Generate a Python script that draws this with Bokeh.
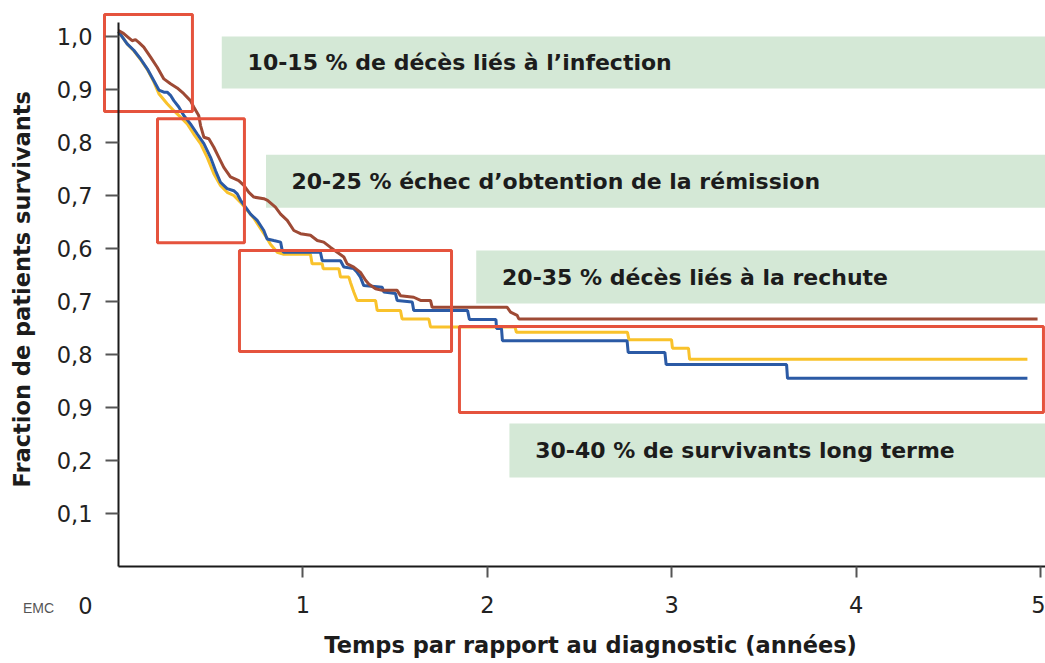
import math
from bokeh.plotting import figure
from bokeh.models import LinearAxis, FixedTicker, Label, Range1d
from bokeh.core.properties import value
from bokeh.embed import file_html
from bokeh.resources import INLINE

# ---------------- data ----------------
# survival curves (time in years, fraction surviving)
brown_t = [0, 0.027, 0.054, 0.074, 0.092, 0.110, 0.137, 0.174, 0.210, 0.246,
           0.282, 0.318, 0.354, 0.390, 0.408, 0.435, 0.445, 0.463, 0.490, 0.517,
           0.544, 0.571, 0.607, 0.652, 0.680, 0.707, 0.734, 0.788, 0.808, 0.851,
           0.879, 0.915, 0.951, 0.987, 1.041, 1.078, 1.113, 1.150, 1.186, 1.222,
           1.240, 1.276, 1.312, 1.340, 1.357, 1.394, 1.430, 1.511, 1.529, 1.601,
           1.638, 1.692, 1.701, 2.108, 2.126, 2.162, 2.171, 4.984]
brown_s = [1.011, 1.006, 0.998, 0.992, 0.994, 0.989, 0.980, 0.961, 0.942, 0.920,
           0.911, 0.903, 0.892, 0.879, 0.867, 0.851, 0.832, 0.810, 0.807, 0.791,
           0.772, 0.753, 0.735, 0.728, 0.719, 0.706, 0.697, 0.694, 0.691, 0.678,
           0.665, 0.653, 0.634, 0.628, 0.625, 0.615, 0.612, 0.602, 0.593, 0.584,
           0.571, 0.565, 0.555, 0.540, 0.533, 0.524, 0.521, 0.521, 0.511, 0.508,
           0.502, 0.502, 0.489, 0.489, 0.480, 0.474, 0.467, 0.467]

blue_t = [0, 0.047, 0.083, 0.119, 0.156, 0.191, 0.219, 0.246, 0.264, 0.282,
          0.300, 0.327, 0.354, 0.390, 0.427, 0.463, 0.499, 0.526, 0.553, 0.589,
          0.625, 0.644, 0.662, 0.689, 0.716, 0.752, 0.788, 0.806, 0.842, 0.879,
          0.888, 0.896, 1.095, 1.105, 1.204, 1.222, 1.276, 1.294, 1.312, 1.330,
          1.430, 1.439, 1.502, 1.511, 1.593, 1.601, 1.893, 1.903, 2.047, 2.050,
          2.077, 2.082, 2.758, 2.764, 2.963, 2.970, 3.623, 3.628, 4.929]
blue_s = [1.009, 0.986, 0.974, 0.958, 0.939, 0.917, 0.899, 0.895, 0.895, 0.889,
          0.879, 0.867, 0.851, 0.835, 0.816, 0.798, 0.772, 0.747, 0.725, 0.713,
          0.709, 0.703, 0.691, 0.678, 0.665, 0.653, 0.634, 0.618, 0.615, 0.612,
          0.596, 0.593, 0.593, 0.577, 0.577, 0.565, 0.562, 0.555, 0.546, 0.530,
          0.527, 0.518, 0.515, 0.502, 0.499, 0.483, 0.483, 0.466, 0.466, 0.449,
          0.449, 0.426, 0.426, 0.404, 0.404, 0.381, 0.381, 0.355, 0.355]

yellow_t = [0, 0.047, 0.083, 0.119, 0.156, 0.191, 0.219, 0.264, 0.300, 0.345,
            0.373, 0.408, 0.445, 0.481, 0.517, 0.553, 0.589, 0.625, 0.662, 0.698,
            0.734, 0.770, 0.806, 0.824, 0.861, 0.896, 1.041, 1.050, 1.105, 1.110,
            1.195, 1.204, 1.249, 1.258, 1.276, 1.294, 1.394, 1.403, 1.529, 1.538,
            1.683, 1.692, 2.150, 2.158, 2.760, 2.768, 2.999, 3.004, 3.091, 3.097,
            4.929]
yellow_s = [1.009, 0.986, 0.973, 0.957, 0.938, 0.915, 0.892, 0.873, 0.860, 0.845,
            0.835, 0.816, 0.798, 0.772, 0.741, 0.719, 0.706, 0.700, 0.687, 0.672,
            0.657, 0.638, 0.619, 0.608, 0.593, 0.589, 0.589, 0.571, 0.571, 0.562,
            0.562, 0.546, 0.546, 0.536, 0.518, 0.502, 0.502, 0.483, 0.483, 0.467,
            0.467, 0.452, 0.452, 0.442, 0.442, 0.428, 0.428, 0.412, 0.412, 0.391,
            0.391]

# shaded phase bands and their captions
band_texts = ["10-15 % de décès liés à l’infection",
              "20-25 % échec d’obtention de la rémission",
              "20-35 % décès liés à la rechute",
              "30-40 % de survivants long terme"]
band_left = [0.56, 0.80, 1.94, 2.12]
band_right = [5.3, 5.3, 5.3, 5.3]
band_bottom = [0.902, 0.677, 0.496, 0.168]
band_top = [1.0, 0.777, 0.596, 0.270]
text_x = [0.70, 0.938, 2.08, 2.26]
text_y = [0.951, 0.727, 0.546, 0.219]

# red phase frames
frame_left = [-0.076, 0.2115, 0.656, 1.849]
frame_right = [0.401, 0.683, 1.806, 5.016]
frame_bottom = [0.8585, 0.611, 0.4057, 0.2906]
frame_top = [1.0415, 0.845, 0.596, 0.453]

# axis ticks / labels (as printed in the source figure)
y_ticks = [1.0, 0.9, 0.8, 0.7, 0.6, 0.5, 0.4, 0.3, 0.2, 0.1]
y_tick_labels = ["1,0", "0,9", "0,8", "0,7", "0,6", "0,7", "0,8", "0,9", "0,2", "0,1"]
x_ticks = [1, 2, 3, 4, 5]
x_tick_labels = ["1", "2", "3", "4", "5"]
x_zero_label = "0"
x_title = "Temps par rapport au diagnostic (années)"
y_title = "Fraction de patients survivants"

# ---------------- figure ----------------
FONT = "DejaVu Sans"
TXT = "#1c1c1c"

p = figure(width=1045, height=663, output_backend="svg", toolbar_location=None,
           x_range=Range1d(-0.6399, 5.0271), y_range=Range1d(-0.18302, 1.06792),
           x_axis_type=None, y_axis_type=None,
           min_border_left=0, min_border_right=0, min_border_top=0,
           min_border_bottom=0)
p.outline_line_color = None
p.background_fill_color = "white"
p.border_fill_color = "white"

p.quad(left=band_left, right=band_right, bottom=band_bottom, top=band_top,
       fill_color="#d4e8d6", line_color=None)

p.text(x=text_x, y=text_y, text=band_texts, text_font=value(FONT),
       text_font_style="bold", text_font_size="22px", text_color=TXT,
       text_align="left", text_baseline="middle")

p.line(yellow_t, yellow_s, line_color="#f9c22b", line_width=3)
p.line(blue_t, blue_s, line_color="#2b5aa5", line_width=3)
p.line(brown_t, brown_s, line_color="#9e4a35", line_width=3)

p.quad(left=frame_left, right=frame_right, bottom=frame_bottom, top=frame_top,
       fill_color=None, line_color="#e5533d", line_width=3)

yaxis = LinearAxis(fixed_location=0, bounds=(0, 1.026),
                   ticker=FixedTicker(ticks=y_ticks),
                   major_label_overrides={t: l for t, l in zip(y_ticks, y_tick_labels)})
xaxis = LinearAxis(fixed_location=0, bounds=(0, 5.027),
                   ticker=FixedTicker(ticks=x_ticks),
                   major_label_overrides={t: l for t, l in zip(x_ticks, x_tick_labels)})

for ax in (xaxis, yaxis):
    ax.axis_line_color = "#1a1a1a"
    ax.axis_line_width = 2
    ax.major_tick_line_color = "#555555"
    ax.major_tick_line_width = 2
    ax.major_tick_in = 0
    ax.minor_tick_line_color = None
    ax.major_label_text_font = FONT
    ax.major_label_text_font_size = "22.5px"
    ax.major_label_text_color = "#222222"

yaxis.major_tick_out = 13
yaxis.major_label_standoff = 13
xaxis.major_tick_out = 11
xaxis.major_label_standoff = 19

p.add_layout(yaxis, "left")
p.add_layout(xaxis, "below")

# axis titles and corner marks
p.add_layout(Label(x=2.56, y=-0.149, text=x_title, text_align="center",
                   text_baseline="middle", text_font=FONT, text_font_style="bold",
                   text_font_size="22.5px", text_color=TXT))
p.add_layout(Label(x=-0.526, y=0.523, text=y_title, angle=math.pi / 2,
                   text_align="center", text_baseline="middle", text_font=FONT,
                   text_font_style="bold", text_font_size="22.5px", text_color=TXT))
p.add_layout(Label(x=-0.179, y=-0.0736, text=x_zero_label, text_align="center",
                   text_baseline="middle", text_font=FONT,
                   text_font_size="22.5px", text_color="#222222"))
p.add_layout(Label(x=-0.434, y=-0.078, text="EMC", text_align="center",
                   text_baseline="middle", text_font="Liberation Sans",
                   text_font_size="14px", text_color="#555555"))

open("out.html", "w").write(file_html(p, INLINE))
